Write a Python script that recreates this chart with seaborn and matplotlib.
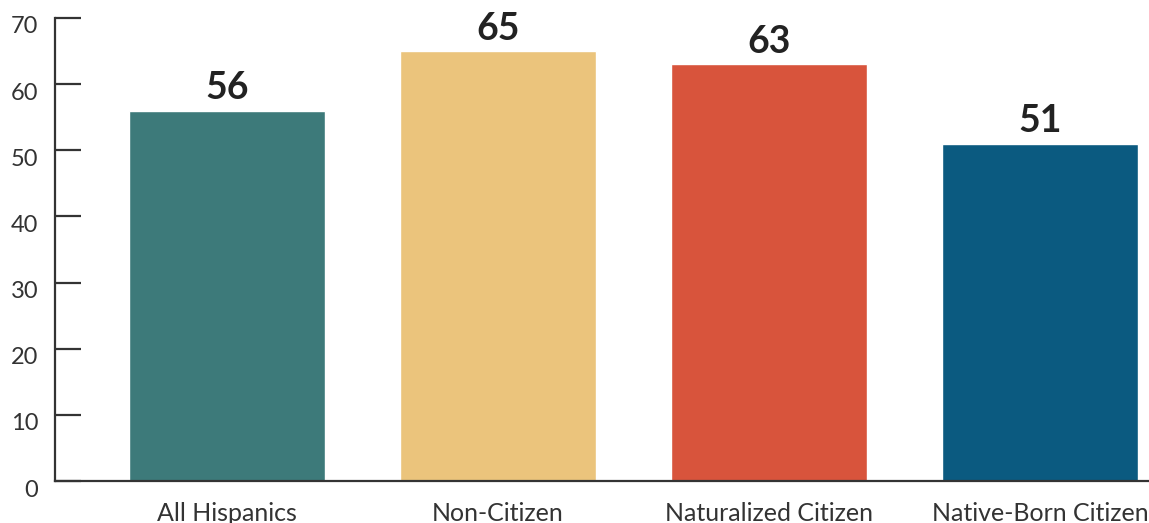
import pandas as pd
import seaborn as sns
import matplotlib.pyplot as plt
import matplotlib.transforms as mtransforms

# data
categories = ['All Hispanics', 'Non-Citizen', 'Naturalized Citizen', 'Native-Born Citizen']
values = [56, 65, 63, 51]
colors = ['#3d7a7a', '#ebc47c', '#d8543c', '#0b5a80']

df = pd.DataFrame({'group': categories, 'value': values})

sns.set_style('white')
plt.rcParams['font.family'] = ['Lato', 'DejaVu Sans']

fig = plt.figure(figsize=(11.49, 5.23), dpi=100)
ax = fig.add_axes([0.0479, 0.0803, 0.9521, 0.8853])

sns.barplot(data=df, x='group', y='value', hue='group', palette=colors,
            width=0.723, legend=False, ax=ax, saturation=1)

# value labels on top of bars
for cont in ax.containers:
    ax.bar_label(cont, fontsize=27, fontweight='bold', color='#222222', padding=4)

ax.set_ylim(0, 70)
ax.set_xlim(-0.635, 3.402)
ax.set_yticks(range(0, 71, 10))
ax.set_xlabel('')
ax.set_ylabel('')

sns.despine(ax=ax, top=True, right=True)
for side in ['left', 'bottom']:
    ax.spines[side].set_color('#333333')
    ax.spines[side].set_linewidth(1.6)

ax.tick_params(axis='y', direction='in', length=19, width=1.6, color='#333333',
               labelsize=17, labelcolor='#333333', pad=12, left=True)
ax.tick_params(axis='x', length=0, labelsize=18, labelcolor='#333333', pad=15)

# tick labels sit a bit below their ticks
shift = mtransforms.ScaledTranslation(0, -7 / 100, fig.dpi_scale_trans)
for lab in ax.get_yticklabels():
    lab.set_transform(lab.get_transform() + shift)

fig.savefig('out.png', dpi=100)
